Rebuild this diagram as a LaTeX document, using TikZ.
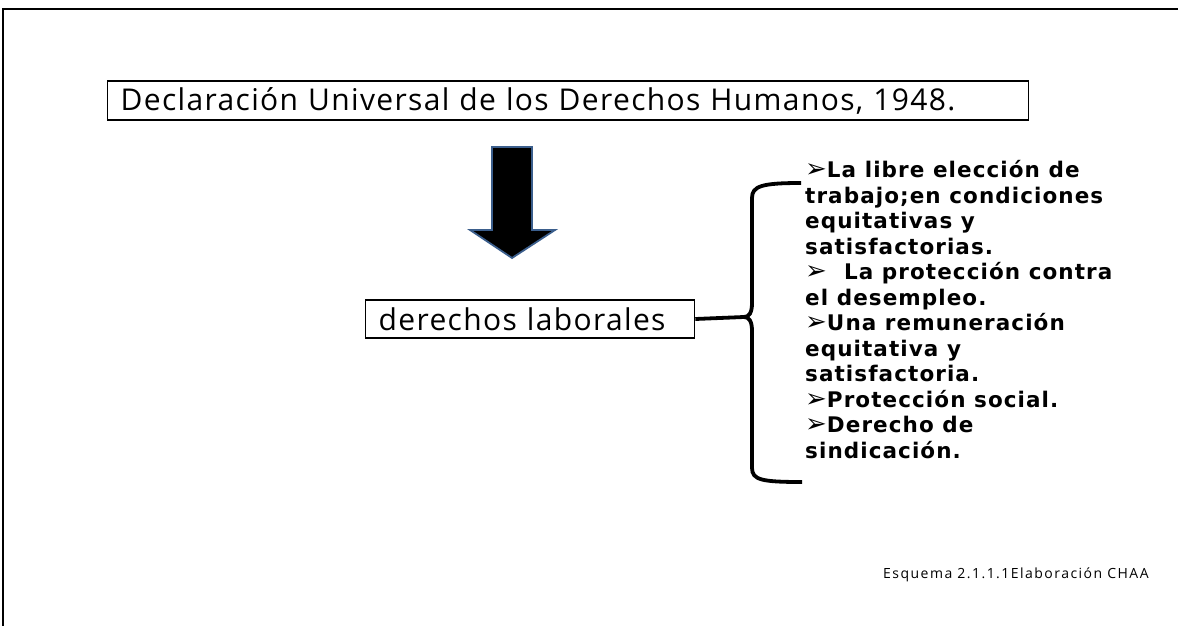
\documentclass[tikz,border=0pt]{standalone}
\usepackage{fontspec}
\setmainfont{Open Sans}
\newfontfamily\symfont{DejaVu Sans}
\newfontfamily\listfont[LetterSpace=5]{DejaVu Sans Bold}
\usetikzlibrary{calc}
\definecolor{arrowedge}{HTML}{3B5E8C}
\tikzset{
  frameline/.style={line width=1.6pt, draw=black},
  titlebox/.style={draw=black, line width=1.3pt, inner xsep=13pt, inner ysep=0pt, anchor=west, align=left,
     font=\fontsize{30}{34}\selectfont\addfontfeature{LetterSpace=4.5}},
  listtext/.style={inner sep=0pt, anchor=north west, align=left,
     font=\fontsize{21.5}{25.5}\selectfont\listfont},
  notetext/.style={inner sep=0pt, anchor=west, font=\fontsize{14}{16}\selectfont\addfontfeature{LetterSpace=10.5}},
  bracestyle/.style={line width=3.8pt, draw=black, line cap=butt},
}
\newcommand{\bul}{\smash{\fontsize{26}{26}\selectfont\symfont\char"27A2}}
\begin{document}
\begin{tikzpicture}[x=1pt,y=-1pt]
\useasboundingbox (0,0) rectangle (1178,626);
% frame
\draw[frameline] (3,626) -- (3,9) -- (1178,9);
% title box
\node[titlebox, minimum width=921pt, minimum height=39pt, text width=895pt] (title) at (107,100.5)
  {Declaración Universal de los Derechos Humanos, 1948.};
% big arrow
\path[fill=black, draw=arrowedge, line width=1.8pt, line join=miter]
  (492,147) -- (532,147) -- (532,230) -- (555,230) -- (512,258) -- (470,230) -- (492,230) -- cycle;
% second box
\node[titlebox, minimum width=329pt, minimum height=38pt, text width=303pt] (lab) at (365,319)
  {derechos laborales};
% brace
\coordinate (cusp) at (744,317);
\draw[bracestyle] (801,183) .. controls (762,183) and (752,186) .. (752,198) -- (752,303)
   .. controls (752,313) and (749,317) .. (cusp)
   .. controls (749,317) and (752,321) .. (752,331) -- (752,468)
   .. controls (752,480) and (762,482) .. (802,482);
\draw[bracestyle] (lab.east) -- (cusp);
% list
\node[listtext] (list) at (805,160.5) {%
\bul La libre elección de\\
trabajo;en condiciones\\
equitativas y\\
satisfactorias.\\
\bul\ \ La protección contra\\
el desempleo.\\
\bul Una remuneración\\
equitativa y\\
satisfactoria.\\
\bul Protección social.\\
\bul Derecho de\\
sindicación.};
% note
\node[notetext] (note) at (883,575) {Esquema 2.1.1.1Elaboración CHAA};
\end{tikzpicture}
\end{document}
